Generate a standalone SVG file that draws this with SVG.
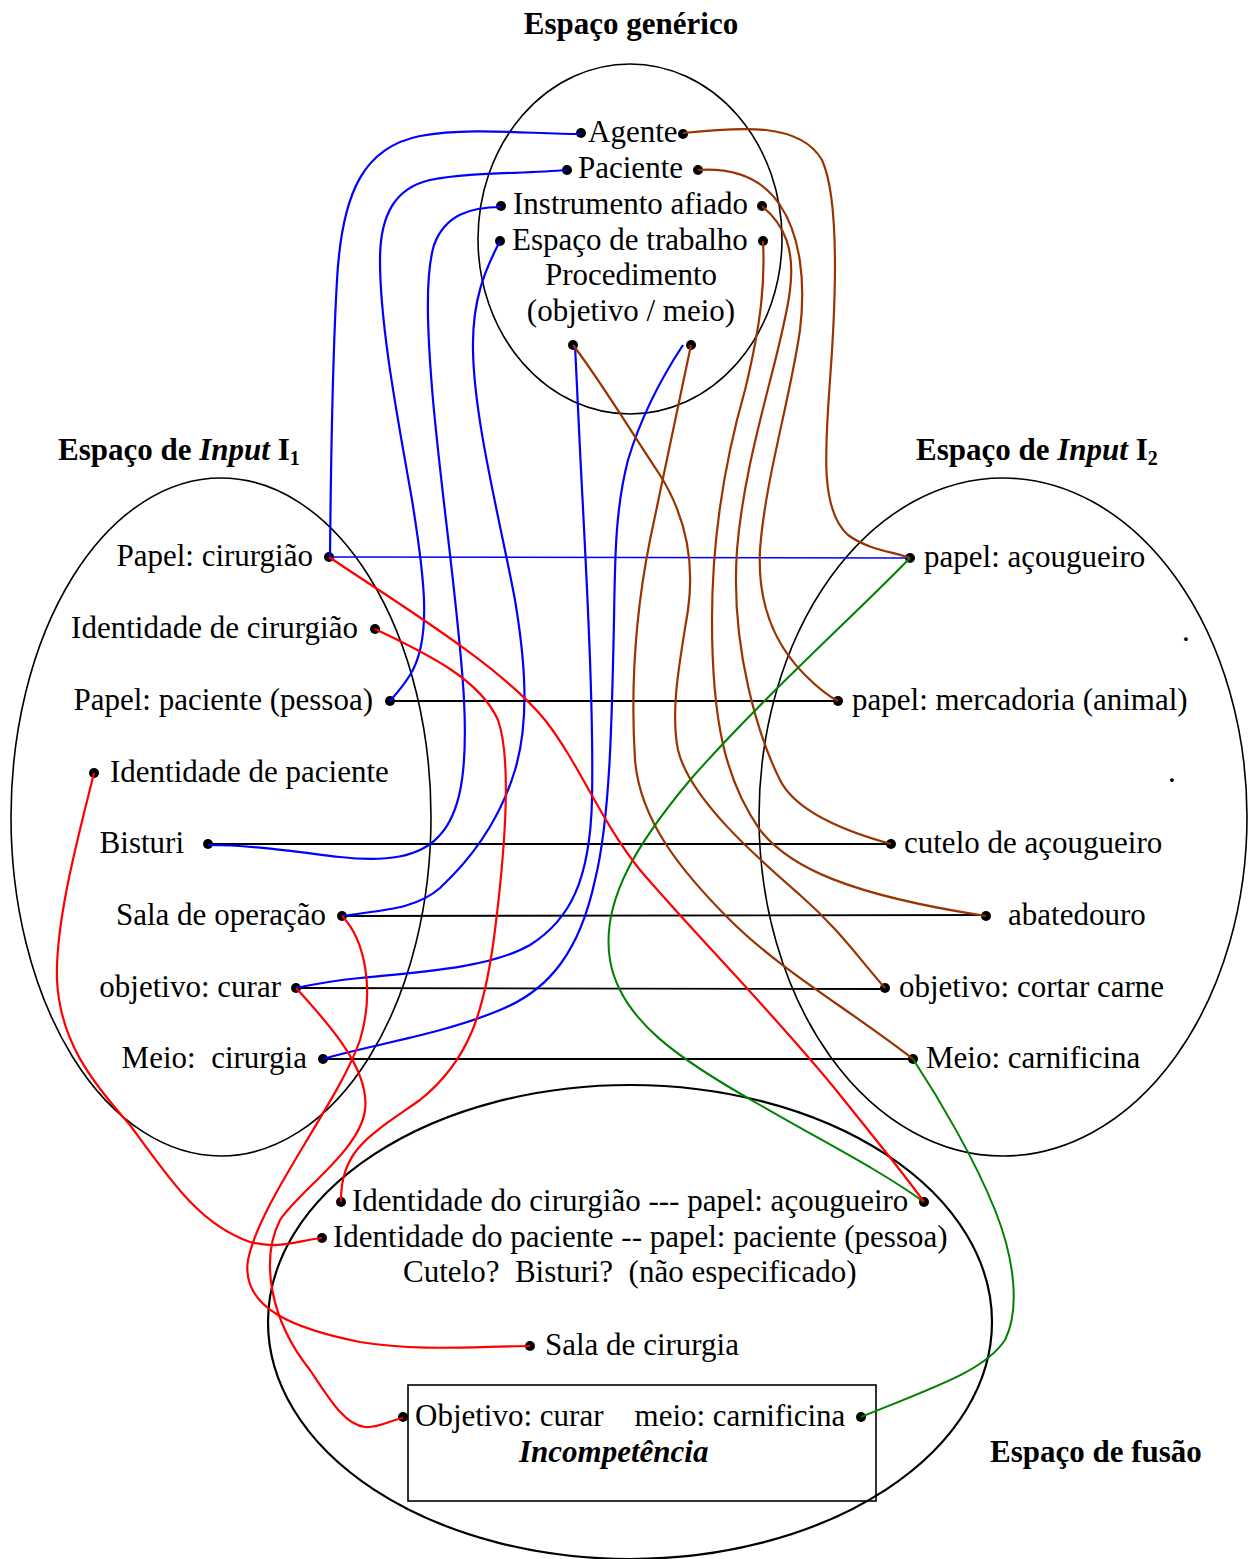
<svg xmlns="http://www.w3.org/2000/svg" width="1248" height="1559" viewBox="0 0 1248 1559">
<style>
text{font-family:"Liberation Serif","Times New Roman",serif;font-size:31px;fill:#000}
.h{font-weight:bold}
.e{fill:none;stroke:#000;stroke-width:1.6}
.ln{fill:none;stroke:#000;stroke-width:1.8}
.b{fill:none;stroke:#0000ff;stroke-width:2.2}
.br{fill:none;stroke:#993300;stroke-width:2.2}
.g{fill:none;stroke:#008000;stroke-width:2}
.r{fill:none;stroke:#ff0000;stroke-width:2.2}
.d{fill:#000}
</style>
<rect width="1248" height="1559" fill="#fff"/>
<g id="generic">
<ellipse class="e" cx="630" cy="239" rx="152" ry="175"/>
<text class="h" x="631" y="34" text-anchor="middle">Espaço genérico</text>
<text x="588" y="142">Agente</text>
<text x="578" y="178">Paciente</text>
<text x="513" y="214">Instrumento afiado</text>
<text x="512" y="250">Espaço de trabalho</text>
<text x="631" y="285" text-anchor="middle">Procedimento</text>
<text x="631" y="321" text-anchor="middle">(objetivo / meio)</text>
<circle class="d" cx="581" cy="133" r="5"/><circle class="d" cx="683" cy="134" r="5"/>
<circle class="d" cx="567" cy="170" r="5"/><circle class="d" cx="698" cy="170" r="5"/>
<circle class="d" cx="501" cy="206" r="5"/><circle class="d" cx="762" cy="206" r="5"/>
<circle class="d" cx="500" cy="241" r="5"/><circle class="d" cx="763" cy="241" r="5"/>
<circle class="d" cx="573" cy="345" r="5"/><circle class="d" cx="691" cy="345" r="5"/>
</g>
<g id="input1">
<ellipse class="e" cx="221" cy="817" rx="210" ry="339"/>
<text class="h" x="58" y="460">Espaço de <tspan font-style="italic">Input</tspan> I<tspan font-size="20" dy="5">1</tspan></text>
<text x="313" y="566" text-anchor="end">Papel: cirurgião</text>
<text x="358" y="638" text-anchor="end">Identidade de cirurgião</text>
<text x="373" y="710" text-anchor="end">Papel: paciente (pessoa)</text>
<text x="110" y="782">Identidade de paciente</text>
<text x="184" y="853" text-anchor="end">Bisturi</text>
<text x="326" y="925" text-anchor="end">Sala de operação</text>
<text x="281" y="997" text-anchor="end">objetivo: curar</text>
<text x="307" y="1068" text-anchor="end" xml:space="preserve">Meio:  cirurgia</text>
<circle class="d" cx="329" cy="557" r="5"/>
<circle class="d" cx="375" cy="629" r="5"/>
<circle class="d" cx="390" cy="701" r="5"/>
<circle class="d" cx="94" cy="773" r="5"/>
<circle class="d" cx="208" cy="844" r="5"/>
<circle class="d" cx="342" cy="916" r="5"/>
<circle class="d" cx="296" cy="988" r="5"/>
<circle class="d" cx="323" cy="1059" r="5"/>
</g>
<g id="input2">
<ellipse class="e" cx="1003" cy="817" rx="244" ry="339"/>
<text class="h" x="916" y="460">Espaço de <tspan font-style="italic">Input</tspan> I<tspan font-size="20" dy="5">2</tspan></text>
<text x="924" y="567">papel: açougueiro</text>
<text x="1182" y="641">.</text>
<text x="852" y="710">papel: mercadoria (animal)</text>
<text x="1168" y="782">.</text>
<text x="904" y="853">cutelo de açougueiro</text>
<text x="1008" y="925">abatedouro</text>
<text x="899" y="997">objetivo: cortar carne</text>
<text x="926" y="1068">Meio: carnificina</text>
<circle class="d" cx="910" cy="558" r="5"/>
<circle class="d" cx="838" cy="701" r="5"/>
<circle class="d" cx="891" cy="844" r="5"/>
<circle class="d" cx="986" cy="916" r="5"/>
<circle class="d" cx="885" cy="988" r="5"/>
<circle class="d" cx="913" cy="1059" r="5"/>
</g>
<g id="blend">
<ellipse cx="630" cy="1322" rx="362" ry="237" fill="none" stroke="#000" stroke-width="2.2"/>
<rect x="408" y="1385" width="468" height="116" fill="none" stroke="#000" stroke-width="1.6"/>
<text x="352" y="1211">Identidade do cirurgião --- papel: açougueiro</text>
<text x="333" y="1247">Identidade do paciente -- papel: paciente (pessoa)</text>
<text x="403" y="1282" xml:space="preserve">Cutelo?  Bisturi?  (não especificado)</text>
<text x="545" y="1355">Sala de cirurgia</text>
<text x="415" y="1426" xml:space="preserve">Objetivo: curar    meio: carnificina</text>
<text class="h" x="519" y="1462" font-style="italic">Incompetência</text>
<text class="h" x="990" y="1462">Espaço de fusão</text>
<circle class="d" cx="341" cy="1202" r="5"/>
<circle class="d" cx="924" cy="1202" r="5"/>
<circle class="d" cx="322" cy="1238" r="5"/>
<circle class="d" cx="530" cy="1346" r="5"/>
<circle class="d" cx="403" cy="1417" r="5"/>
<circle class="d" cx="861" cy="1417" r="5"/>
</g>
<g id="connectors">
<path class="ln" d="M390,701 L838,701"/>
<path class="ln" d="M208,844 L891,844"/>
<path class="ln" d="M342,916 L986,915"/>
<path class="ln" d="M296,988 L885,989"/>
<path class="ln" d="M323,1059 L913,1059"/>
<path fill="none" stroke="#0000ff" stroke-width="1.6" d="M329,557 L910,558"/>
<path class="b" d="M581,134 C530,134 470,127 420,136 C365,147 342,190 337,280 C333,350 331,450 330,557"/>
<path class="b" d="M567,170 C520,174 470,172 430,180 C395,188 380,215 380,260 C380,330 400,430 412,500 C425,580 432,640 410,675 C402,688 395,695 390,701"/>
<path class="b" d="M501,207 C470,207 445,215 434,245 C425,275 427,330 433,400 C442,500 460,620 464,700 C468,780 458,815 440,835 C420,858 385,862 340,857 C290,851 250,845 208,845"/>
<path class="b" d="M500,241 C485,270 472,300 473,350 C474,420 500,520 515,600 C525,660 530,720 515,770 C500,820 470,860 440,888 C415,910 380,910 342,916"/>
<path class="b" d="M575,345 L580,450 C585,550 594,700 592,800 C590,880 570,920 530,945 C490,968 420,972 360,978 C330,981 310,985 296,988"/>
<path class="b" d="M683,345 C660,380 640,420 628,460 C615,510 615,560 614,620 C612,720 610,820 595,880 C580,950 550,990 500,1010 C440,1035 370,1045 323,1059"/>
<path class="br" d="M683,133 C740,127 800,122 822,160 C840,200 836,300 830,380 C825,450 820,510 848,535 C868,550 895,552 910,558"/>
<path class="br" d="M698,170 C730,168 760,175 780,205 C800,235 806,280 800,330 C790,400 765,480 760,550 C757,610 780,650 805,675 C820,690 830,697 838,701"/>
<path class="br" d="M762,206 C785,225 795,250 790,290 C783,350 745,450 737,550 C730,650 760,740 780,780 C795,810 840,830 891,844"/>
<path class="br" d="M763,241 C765,280 762,320 745,390 C725,460 712,540 712,620 C712,720 725,780 760,830 C790,868 850,895 986,916"/>
<path class="br" d="M573,345 C600,380 630,430 660,475 C685,515 695,560 688,610 C680,660 670,710 678,750 C690,800 760,860 800,895 C840,930 860,960 885,988"/>
<path class="br" d="M691,345 C680,400 665,470 650,540 C636,610 630,680 635,760 C640,820 680,870 730,920 C780,970 850,1010 913,1059"/>
<path class="g" d="M910,558 C860,610 760,700 690,780 C640,840 600,900 610,960 C620,1020 680,1060 760,1105 C820,1140 880,1170 924,1202"/>
<path class="g" d="M913,1059 C940,1100 975,1160 995,1210 C1015,1260 1020,1310 1005,1340 C985,1370 940,1385 861,1417"/>
<path class="r" d="M329,557 C400,605 500,665 545,720 C580,765 600,820 640,870 C700,940 780,1020 840,1095 C880,1145 905,1175 924,1202"/>
<path class="r" d="M375,629 C430,655 480,680 498,720 C512,760 505,850 495,930 C485,1010 470,1060 420,1100 C370,1135 340,1150 341,1202"/>
<path class="r" d="M94,773 C80,830 55,920 57,980 C60,1040 90,1080 130,1125 C170,1180 200,1225 250,1242 C280,1250 300,1240 322,1238"/>
<path class="r" d="M342,916 C365,940 375,990 360,1040 C340,1100 260,1200 248,1260 C240,1310 300,1330 360,1342 C420,1352 480,1346 530,1346"/>
<path class="r" d="M296,988 C330,1025 370,1070 365,1110 C360,1150 300,1190 280,1220 C260,1260 270,1320 310,1370 C330,1400 345,1425 365,1427 C380,1428 390,1420 403,1418"/>
</g>
</svg>
